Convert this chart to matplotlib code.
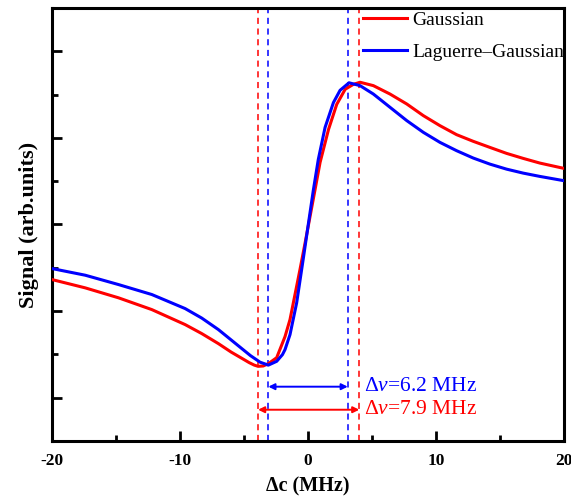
import matplotlib

matplotlib.use("Agg")
import matplotlib.pyplot as plt
from matplotlib.ticker import MultipleLocator, NullFormatter

plt.rcParams["font.family"] = ["Liberation Serif", "DejaVu Serif"]
plt.rcParams["mathtext.fontset"] = "custom"
plt.rcParams["mathtext.rm"] = "Liberation Serif"
plt.rcParams["mathtext.it"] = "Liberation Serif:italic"
plt.rcParams["axes.unicode_minus"] = False

# detuning (MHz) and signal (arb. units) for both beam profiles
gauss_x = [-20, -17.4, -14.8, -12.2, -9.6, -8.3, -7.0, -6.0, -5.2, -4.6, -4.2,
           -3.9, -3.5, -3.1, -2.45, -1.8, -1.41, -0.63, -0.23, 0.16, 0.55, 0.94,
           1.6, 2.24, 2.9, 3.54, 4.06, 5.1, 6.4, 7.71, 9.0, 10.3, 11.6, 12.9,
           14.2, 15.5, 16.8, 18.1, 20]
gauss_y = [2.364, 2.268, 2.153, 2.017, 1.844, 1.740, 1.624, 1.526, 1.457, 1.405,
           1.376, 1.362, 1.366, 1.393, 1.462, 1.705, 1.902, 2.480, 2.788, 3.096,
           3.405, 3.717, 4.098, 4.387, 4.561, 4.618, 4.642, 4.603, 4.506, 4.391,
           4.257, 4.141, 4.037, 3.960, 3.890, 3.821, 3.763, 3.709, 3.647]

lg_x = [-20, -17.4, -14.8, -12.2, -9.6, -8.3, -7.0, -5.7, -4.5, -3.75, -3.1,
        -2.45, -2.0, -1.8, -1.41, -0.89, -0.36, 0.03, 0.41, 0.8, 1.33, 1.98,
        2.5, 3.2, 4.06, 5.1, 6.4, 7.71, 9.0, 10.3, 11.6, 12.9, 14.2, 15.5,
        16.8, 18.1, 20]
lg_y = [2.491, 2.414, 2.306, 2.191, 2.029, 1.919, 1.786, 1.630, 1.486, 1.410,
        1.376, 1.420, 1.497, 1.555, 1.728, 2.095, 2.618, 3.012, 3.393, 3.751,
        4.121, 4.407, 4.549, 4.636, 4.603, 4.506, 4.353, 4.199, 4.064, 3.948,
        3.852, 3.767, 3.697, 3.639, 3.593, 3.555, 3.505]

# linewidth markers (MHz)
gauss_edges = [-3.9, 4.0]
lg_edges = [-3.1, 3.1]
gauss_width = 7.9
lg_width = 6.2
lg_arrow_y = 1.127
gauss_arrow_y = 0.861

fig = plt.figure(figsize=(5.71, 4.97), dpi=100)
ax = fig.add_axes([0.091, 0.1127, 0.897, 0.8713])

for xe in gauss_edges:
    ax.axvline(xe, color="red", lw=1.1, ls=(0, (4, 3)), zorder=1)
for xe in lg_edges:
    ax.axvline(xe, color="blue", lw=1.1, ls=(0, (4, 3)), zorder=1)

ax.plot(gauss_x, gauss_y, color="red", lw=2.2, label="Gaussian", zorder=3)
ax.plot(lg_x, lg_y, color="blue", lw=2.2, label="Laguerre\u2013Gaussian", zorder=3)

ax.annotate("", xy=(lg_edges[0], lg_arrow_y), xytext=(lg_edges[1], lg_arrow_y),
            arrowprops=dict(arrowstyle="<|-|>", color="blue", lw=1.4,
                            mutation_scale=9, shrinkA=0, shrinkB=0))
ax.annotate("", xy=(gauss_edges[0], gauss_arrow_y), xytext=(gauss_edges[1], gauss_arrow_y),
            arrowprops=dict(arrowstyle="<|-|>", color="red", lw=1.4,
                            mutation_scale=9, shrinkA=0, shrinkB=0))
ax.text(4.35, lg_arrow_y, r"$\Delta\it{v}$=%.1f MHz" % lg_width, color="blue",
        fontsize=15.5, va="center", ha="left")
ax.text(4.35, gauss_arrow_y, r"$\Delta\it{v}$=%.1f MHz" % gauss_width, color="red",
        fontsize=15.5, va="center", ha="left")

ax.set_xlim(-20, 20)
ax.set_ylim(0.5, 5.5)
ax.xaxis.set_major_locator(MultipleLocator(10))
ax.xaxis.set_minor_locator(MultipleLocator(5))
ax.yaxis.set_major_locator(MultipleLocator(1))
ax.yaxis.set_minor_locator(MultipleLocator(0.5))
ax.yaxis.set_major_formatter(NullFormatter())
ax.tick_params(which="both", direction="in", width=2, top=False, right=False)
ax.tick_params(which="major", length=7)
ax.tick_params(which="minor", length=4)
ax.tick_params(axis="x", labelsize=12.5, pad=9)
for lab in ax.get_xticklabels():
    lab.set_fontweight("bold")
for sp in ax.spines.values():
    sp.set_linewidth(2.2)

ax.set_xlabel("\u0394c (MHz)", fontsize=14.5, fontweight="bold", labelpad=5)
ax.set_ylabel("Signal (arb.units)", fontsize=16, fontweight="bold", labelpad=6)

ax.legend(loc="upper right", frameon=False, fontsize=14, handlelength=2.3,
          handletextpad=0.25, borderpad=0, borderaxespad=0, labelspacing=0.75,
          bbox_to_anchor=(1.0, 0.992))

fig.savefig("out.png", dpi=100)
